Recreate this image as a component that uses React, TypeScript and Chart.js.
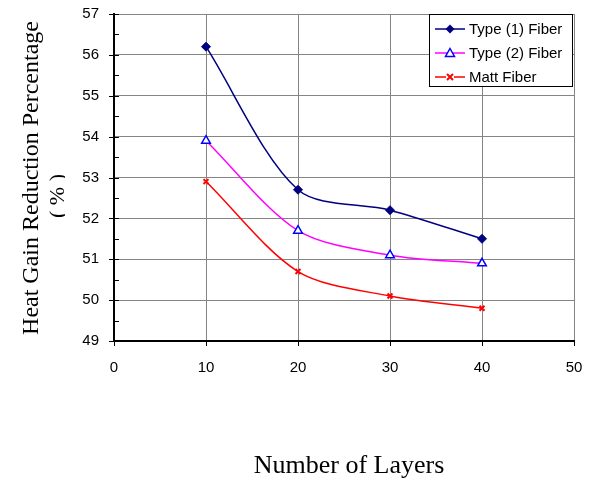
import React, { useEffect, useRef } from "react";
import { Chart, registerables } from "chart.js";

Chart.register(...registerables);

const layers = [10, 20, 30, 40];
const type1Fiber = [56.2, 52.7, 52.2, 51.5];
const type2Fiber = [53.9, 51.7, 51.1, 50.9];
const mattFiber = [52.9, 50.7, 50.1, 49.8];
const seriesNames = ["Type (1) Fiber", "Type (2) Fiber", "Matt Fiber"];
const xTitle = "Number of Layers";
const yTitle = "Heat Gain Reduction Percentage";
const yTitleUnit = "( % )";

const SANS = "'Liberation Sans', Arial, sans-serif";
const SERIF = "'Liberation Serif', 'Times New Roman', serif";

const colors = ["#000080", "#FF00FF", "#FF0000"];
const markerColors = ["#000080", "#0000FF", "#FF0000"];

function drawMarker(ctx: CanvasRenderingContext2D, kind: number, x: number, y: number) {
  ctx.save();
  if (kind === 0) {
    ctx.fillStyle = markerColors[0];
    ctx.beginPath();
    ctx.moveTo(x, y - 4.5);
    ctx.lineTo(x + 4.5, y);
    ctx.lineTo(x, y + 4.5);
    ctx.lineTo(x - 4.5, y);
    ctx.closePath();
    ctx.fill();
  } else if (kind === 1) {
    ctx.fillStyle = "#fff";
    ctx.strokeStyle = markerColors[1];
    ctx.lineWidth = 1.5;
    ctx.beginPath();
    ctx.moveTo(x, y - 4.5);
    ctx.lineTo(x + 4.5, y + 3.5);
    ctx.lineTo(x - 4.5, y + 3.5);
    ctx.closePath();
    ctx.fill();
    ctx.stroke();
  } else {
    ctx.fillStyle = "#fff";
    ctx.fillRect(x - 4, y - 4, 8, 8);
    ctx.strokeStyle = markerColors[2];
    ctx.lineWidth = 2;
    ctx.beginPath();
    ctx.moveTo(x - 3, y - 3);
    ctx.lineTo(x + 3, y + 3);
    ctx.moveTo(x + 3, y - 3);
    ctx.lineTo(x - 3, y + 3);
    ctx.stroke();
  }
  ctx.restore();
}

const decorPlugin = {
  id: "decor",
  afterDraw(chart: any) {
    const ctx: CanvasRenderingContext2D = chart.ctx;
    const xs = chart.scales.x;
    const ys = chart.scales.y;
    const area = chart.chartArea;
    ctx.save();
    // tick marks
    ctx.strokeStyle = "#000";
    ctx.lineWidth = 1;
    for (let v = 49; v <= 57; v += 0.5) {
      const py = Math.round(ys.getPixelForValue(v)) + 0.5;
      ctx.beginPath();
      if (v % 1 === 0) {
        ctx.moveTo(area.left - 5, py);
        ctx.lineTo(area.left + 5, py);
      } else {
        ctx.moveTo(area.left, py);
        ctx.lineTo(area.left + 5, py);
      }
      ctx.stroke();
    }
    for (let v = 0; v <= 50; v += 10) {
      const px = Math.round(xs.getPixelForValue(v)) + 0.5;
      ctx.beginPath();
      ctx.moveTo(px, area.bottom);
      ctx.lineTo(px, area.bottom + 5);
      ctx.stroke();
    }
    // titles
    ctx.fillStyle = "#000";
    ctx.textAlign = "center";
    ctx.textBaseline = "middle";
    ctx.font = `26px ${SERIF}`;
    ctx.fillText(xTitle, 349, 466);
    ctx.save();
    ctx.translate(32, 178);
    ctx.rotate(-Math.PI / 2);
    ctx.font = `24px ${SERIF}`;
    ctx.fillText(yTitle, 0, 0);
    ctx.restore();
    ctx.save();
    ctx.beginPath();
    ctx.rect(0, 0, 65, 483);
    ctx.clip();
    ctx.translate(58, 196);
    ctx.rotate(-Math.PI / 2);
    ctx.font = `22px ${SERIF}`;
    ctx.fillText(yTitleUnit, 0, 0);
    ctx.restore();
    // legend
    const lx = 429.5, ly = 14.5, lw = 143, lh = 72;
    ctx.fillStyle = "#fff";
    ctx.fillRect(lx, ly, lw, lh);
    ctx.strokeStyle = "#000";
    ctx.lineWidth = 1;
    ctx.strokeRect(lx, ly, lw, lh);
    const rows = [29, 53, 77];
    ctx.font = `15px ${SANS}`;
    ctx.textAlign = "left";
    ctx.textBaseline = "middle";
    rows.forEach((ry, i) => {
      ctx.strokeStyle = colors[i];
      ctx.lineWidth = 1.5;
      ctx.beginPath();
      ctx.moveTo(435, ry);
      ctx.lineTo(465, ry);
      ctx.stroke();
      drawMarker(ctx, i, 450, ry);
      ctx.fillStyle = "#000";
      ctx.fillText(seriesNames[i], 469, ry + 1);
    });
    ctx.restore();
  },
};

export default function App() {
  const ref = useRef<HTMLCanvasElement | null>(null);
  useEffect(() => {
    if (!ref.current) return;
    const mk = (vals: number[]) => layers.map((x, i) => ({ x, y: vals[i] }));
    const chart = new Chart(ref.current, {
      type: "line",
      data: {
        datasets: [
          {
            label: seriesNames[0],
            data: mk(type1Fiber),
            borderColor: colors[0],
            borderWidth: 1.5,
            pointStyle: "rectRot",
            pointRadius: 4.5,
            pointBackgroundColor: markerColors[0],
            pointBorderColor: markerColors[0],
            pointBorderWidth: 1,
            tension: 0.3,
          },
          {
            label: seriesNames[1],
            data: mk(type2Fiber),
            borderColor: colors[1],
            borderWidth: 1.5,
            pointStyle: "triangle",
            pointRadius: 5,
            pointBackgroundColor: "#ffffff",
            pointBorderColor: markerColors[1],
            pointBorderWidth: 1.5,
            tension: 0.3,
          },
          {
            label: seriesNames[2],
            data: mk(mattFiber),
            borderColor: colors[2],
            borderWidth: 1.5,
            pointStyle: "crossRot",
            pointRadius: 3.5,
            pointBorderColor: markerColors[2],
            pointBorderWidth: 2,
            tension: 0.3,
          },
        ],
      },
      options: {
        responsive: false,
        animation: false,
        devicePixelRatio: 1,
        layout: { padding: { left: 0, right: 21, top: 14, bottom: 0 } },
        plugins: { legend: { display: false }, tooltip: { enabled: false } },
        scales: {
          x: {
            type: "linear",
            min: 0,
            max: 50,
            ticks: { stepSize: 10, color: "#000", font: { family: SANS, size: 15 }, padding: 18 },
            grid: { color: "#858585", lineWidth: 1, drawTicks: false },
            border: { color: "#000", width: 2 },
            afterFit: (s: any) => {
              s.height = 142;
              s.paddingLeft = 0;
              s.paddingRight = 0;
            },
          },
          y: {
            type: "linear",
            min: 49,
            max: 57,
            ticks: { stepSize: 1, color: "#000", font: { family: SANS, size: 15 }, padding: 15 },
            grid: { color: "#858585", lineWidth: 1, drawTicks: false },
            border: { color: "#000", width: 2 },
            afterFit: (s: any) => {
              s.width = 114;
              s.paddingTop = 0;
              s.paddingBottom = 0;
            },
          },
        },
      },
      plugins: [decorPlugin],
    });
    return () => chart.destroy();
  }, []);
  return (
    <div style={{ position: "fixed", left: 0, top: 0, width: 595, height: 483, background: "#fff" }}>
      <canvas ref={ref} width={595} height={483} style={{ width: 595, height: 483 }} />
    </div>
  );
}
